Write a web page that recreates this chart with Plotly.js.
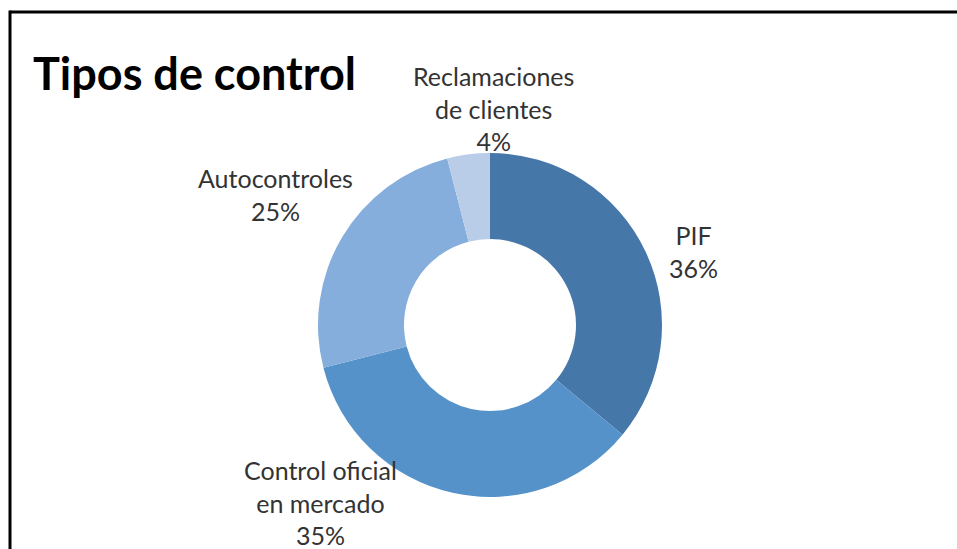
<!DOCTYPE html>
<html>
<head>
<meta charset="utf-8">
<script src="https://cdn.plot.ly/plotly-3.0.1.min.js"></script>
<style>html,body{margin:0;padding:0;background:#fff;}#chart{width:957px;height:549px;}</style>
</head>
<body>
<div id="chart"></div>
<script>
// Data
const categories = ["PIF", "Control oficial<br>en mercado", "Autocontroles", "Reclamaciones<br>de clientes"];
const values = [36, 35, 25, 4];
const colors = ["#4677A9", "#5592C9", "#85AEDC", "#B9CDE8"];
const chartTitle = "Tipos de control";

// Label placement (layout, in pixels)
const labelPos = [[693, 251], [320, 502], [275, 194], [494, 108]];

const W = 957, H = 549;
const cx = 490, cy = 325, R = 172;

const total = values.reduce((a, b) => a + b, 0);

const trace = {
  type: "pie",
  labels: categories,
  values: values,
  sort: false,
  direction: "clockwise",
  rotation: 0,
  hole: 0.5,
  textinfo: "none",
  hoverinfo: "label+percent",
  marker: { colors: colors, line: { width: 0 } },
  domain: { x: [(cx - R) / W, (cx + R) / W], y: [(H - cy - R) / H, (H - cy + R) / H] },
  showlegend: false
};

const annotations = categories.map((c, i) => ({
  xref: "paper", yref: "paper",
  x: labelPos[i][0] / W, y: 1 - labelPos[i][1] / H,
  xanchor: "center", yanchor: "middle",
  text: c + "<br>" + Math.round(values[i] / total * 100) + "%",
  showarrow: false,
  align: "center",
  font: { family: "Lato, 'Open Sans', sans-serif", size: 25, color: "#333333" }
}));

annotations.push({
  xref: "paper", yref: "paper",
  x: 31 / W, y: 1 - 73 / H,
  xanchor: "left", yanchor: "middle",
  text: "<b>" + chartTitle + "</b>",
  showarrow: false,
  font: { family: "Lato, 'Open Sans', sans-serif", size: 45, color: "#000" }
});

const layout = {
  width: W, height: H,
  margin: { l: 0, r: 0, t: 0, b: 0 },
  paper_bgcolor: "#fff",
  plot_bgcolor: "#fff",
  annotations: annotations,
  shapes: [
    { type: "line", xref: "paper", yref: "paper", x0: 10 / W, x1: 1, y0: 1 - 12 / H, y1: 1 - 12 / H, line: { color: "#000", width: 3 } },
    { type: "line", xref: "paper", yref: "paper", x0: 10 / W, x1: 10 / W, y0: 0, y1: 1 - 10.5 / H, line: { color: "#000", width: 3 } }
  ]
};

Plotly.newPlot("chart", [trace], layout, { displayModeBar: false, staticPlot: true });
</script>
</body>
</html>
